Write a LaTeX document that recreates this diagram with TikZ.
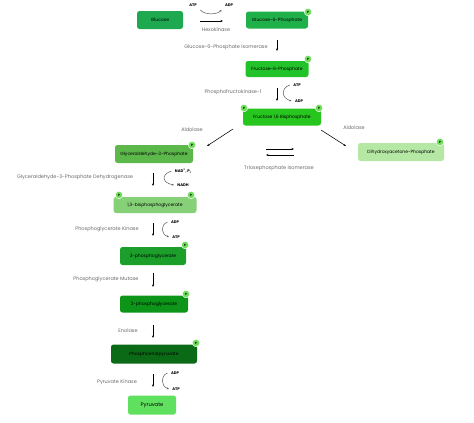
\documentclass[tikz,border=0pt]{standalone}
\usepackage{fontspec}
\setmainfont{Poppins}
\usetikzlibrary{arrows.meta}
\definecolor{cglc}{HTML}{1EA84F}
\definecolor{cgsp}{HTML}{20B04A}
\definecolor{cfsp}{HTML}{22C22A}
\definecolor{cfbp}{HTML}{26C61E}
\definecolor{cgap}{HTML}{5CB84A}
\definecolor{cdhap}{HTML}{B5E8A5}
\definecolor{cbpg}{HTML}{86D178}
\definecolor{cpgt}{HTML}{1B9F2A}
\definecolor{cpgd}{HTML}{0D951A}
\definecolor{cpep}{HTML}{0B6A16}
\definecolor{cpyr}{HTML}{5FE05F}
\definecolor{cpc}{HTML}{6FDC5A}
\definecolor{cenz}{HTML}{6A6A6A}
\tikzset{
  met/.style={rounded corners=2.5pt, inner sep=0pt, text=black, font=\fontsize{4.5}{5}\selectfont},
  pc/.style={circle, fill=cpc, draw=white, line width=0.5pt, minimum size=7.5pt, inner sep=0pt, font=\fontsize{3}{3}\selectfont\bfseries},
  enz/.style={text=cenz, font=\fontsize{5}{6}\selectfont},
  cof/.style={text=black, font=\fontsize{3.8}{4}\selectfont\bfseries},
  arr/.style={-{Stealth[length=2.5pt,width=2pt]}, line width=0.55pt, black},
  carr/.style={-{Stealth[length=2pt,width=1.8pt]}, line width=0.5pt, gray!70!black},
}
\begin{document}
\begin{tikzpicture}[x=1pt,y=-1pt]
\useasboundingbox (0,0) rectangle (474,423);
% metabolites
\node[met, fill=cglc, minimum width=46pt, minimum height=18pt] (glc) at (160,20) {Glucose};
\node[met, fill=cgsp, minimum width=62pt, minimum height=17pt] (gsp) at (277,20) {Glucose-6-Phosphate};
\node[pc] (pgsp) at (308,12) {P};
\node[met, fill=cfsp, minimum width=63pt, minimum height=16pt] (fsp) at (277,69) {Fructose-6-Phosphate};
\node[pc] (pfsp) at (308,59) {P};
\node[met, fill=cfbp, minimum width=78pt, minimum height=17pt] (fbp) at (282,117) {Fructose 1,6 Bisphosphate};
\node[pc] (pfbpa) at (244,108) {P};
\node[pc] (pfbpb) at (319,108) {P};
\node[met, fill=cgap, minimum width=78pt, minimum height=18pt] (gap) at (154,154) {Glyceraldehyde-3-Phosphate};
\node[pc] (pgap) at (192,145) {P};
\node[met, fill=cdhap, minimum width=86pt, minimum height=18pt] (dhap) at (401,152) {Dihydroxyacetone-Phosphate};
\node[pc] (pdhap) at (440,142) {P};
\node[met, fill=cbpg, minimum width=83pt, minimum height=16pt] (bpg) at (155,205) {1,3-bisphosphoglycerate};
\node[pc] (pbpga) at (119,195) {P};
\node[pc] (pbpgb) at (191,195) {P};
\node[met, fill=cpgt, minimum width=66pt, minimum height=18pt] (pgt) at (153,256) {3-phosphoglycerate};
\node[pc] (ppgt) at (185,245) {P};
\node[met, fill=cpgd, minimum width=68pt, minimum height=17pt] (pgd) at (154,304) {2-phosphoglycerate};
\node[pc] (ppgd) at (186,294) {P};
\node[met, fill=cpep, minimum width=86pt, minimum height=19pt] (pep) at (154,354) {Phosphoenolpyruvate};
\node[pc] (ppep) at (196,343) {P};
\node[met, fill=cpyr, minimum width=48pt, minimum height=19pt, font=\fontsize{5.2}{6}\selectfont] (pyr) at (152,405) {Pyruvate};
% step 1
\coordinate (s1a) at (200,21); \coordinate (s1b) at (223,21);
\draw[arr] (s1a) -- (s1b);
\node[enz] (e1) at (216,30) {Hexokinase};
\node[cof] (atp1) at (193,5) {ATP};
\node[cof] (adp1) at (229,5) {ADP};
\draw[carr] (atp1.south east) .. controls (204,15) and (217,15) .. (adp1.south west);
% step 2
\coordinate (s2a) at (277,40); \coordinate (s2b) at (277,51);
\draw[arr] (s2a) -- (s2b);
\node[enz] (e2) at (226,47) {Glucose-6-Phosphate Isomerase};
% step 3
\coordinate (s3a) at (277,88); \coordinate (s3b) at (277,101);
\draw[arr] (s3a) -- (s3b);
\node[enz] (e3) at (233,92) {Phosphofructokinase-1};
\node[cof] (atp3) at (297,85) {ATP};
\node[cof] (adp3) at (299,101) {ADP};
\draw[carr] (atp3.west) .. controls (281,88) and (281,98) .. (adp3.west);
% aldolase
\coordinate (s4a) at (233,129); \coordinate (s4b) at (207,146);
\draw[arr] (s4a) -- (s4b);
\node[enz] (e4) at (192,130) {Aldolase};
\coordinate (s5a) at (321,130); \coordinate (s5b) at (346,146);
\draw[arr] (s5a) -- (s5b);
\node[enz] (e5) at (354,128) {Aldolase};
% triosephosphate isomerase
\coordinate (t1a) at (266,149); \coordinate (t1b) at (294,149);
\coordinate (t2a) at (294,155); \coordinate (t2b) at (266,155);
\draw[arr] (t1a) -- (t1b);
\draw[arr] (t2a) -- (t2b);
\node[enz] (e6) at (279,168) {Triosephosphate Isomerase};
% G3P dehydrogenase
\coordinate (s6a) at (153,173); \coordinate (s6b) at (153,186);
\draw[arr] (s6a) -- (s6b);
\node[enz] (e7) at (75,177) {Glyceraldehyde-3-Phosphate Dehydrogenase};
\node[cof] (nad) at (183,171) {NAD\textsuperscript{+}, P\textsubscript{i}};
\node[cof] (nadh) at (183,185) {NADH};
\draw[carr] (nad.west) .. controls (160,175) and (163,183) .. (nadh.west);
% phosphoglycerate kinase
\coordinate (s7a) at (153,223); \coordinate (s7b) at (153,236);
\draw[arr] (s7a) -- (s7b);
\node[enz] (e8) at (107,229) {Phosphoglycerate Kinase};
\node[cof] (adp7) at (175,222) {ADP};
\node[cof] (atp7) at (176,237) {ATP};
\draw[carr] (adp7.west) .. controls (160,225) and (161,234) .. (atp7.west);
% mutase
\coordinate (s8a) at (153,273); \coordinate (s8b) at (153,287);
\draw[arr] (s8a) -- (s8b);
\node[enz] (e9) at (106,279) {Phosphoglycerate Mutase};
% enolase
\coordinate (s9a) at (153,325); \coordinate (s9b) at (153,338);
\draw[arr] (s9a) -- (s9b);
\node[enz] (e10) at (128,331) {Enolase};
% pyruvate kinase
\coordinate (s10a) at (153,374); \coordinate (s10b) at (153,387);
\draw[arr] (s10a) -- (s10b);
\node[enz] (e11) at (117,382) {Pyruvate Kinase};
\node[cof] (adp10) at (175,373) {ADP};
\node[cof] (atp10) at (176,389) {ATP};
\draw[carr] (adp10.west) .. controls (160,376) and (161,386) .. (atp10.west);
\end{tikzpicture}
\end{document}
